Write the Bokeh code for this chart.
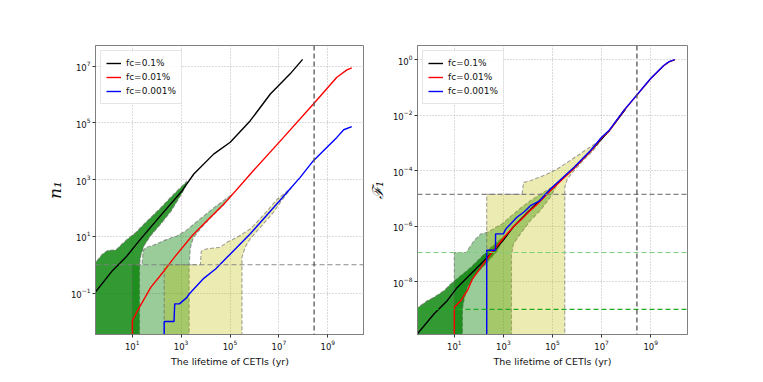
import numpy as np
from bokeh.plotting import figure
from bokeh.models import FixedTicker, Span, Range1d
from bokeh.layouts import row
from bokeh.embed import file_html
from bokeh.resources import INLINE

# ---------------- tick values / texts ----------------
x_ticks = [1e1, 1e3, 1e5, 1e7, 1e9]
left_y_ticks = [1e-1, 1e1, 1e3, 1e5, 1e7]
right_y_ticks = [1e-8, 1e-6, 1e-4, 1e-2, 1e0]
series_labels = ["fc=0.1%", "fc=0.01%", "fc=0.001%"]
x_label = "The lifetime of CETIs (yr)"
left_y_label = "n\u2081"
right_y_label = "\u2131\u2081"

# ---------------- LEFT panel: n_1 (values as log10) ----------------
black_n_logt = [-0.52, 0.2, 0.74, 1.29, 2.1, 3.05, 3.52, 4.33, 5.01, 5.83, 6.65, 7.46, 7.97]
black_n_logy = [-0.98, -0.2, 0.26, 0.85, 1.67, 2.62, 3.2, 3.9, 4.32, 5.08, 6.02, 6.73, 7.24]

red_n_logt = [1.01, 1.01, 1.22, 1.76, 2.31, 2.78, 3.46, 4.14, 4.69, 4.88, 5.96, 7.19, 8.41, 9.37, 9.78, 9.98]
red_n_logy = [-3.0, -1.97, -1.62, -0.8, -0.21, 0.32, 1.03, 1.62, 2.09, 2.26, 3.32, 4.49, 5.67, 6.61, 6.87, 6.94]

blue_n_logt = [2.31, 2.31, 2.71, 2.74, 2.93, 3.04, 3.24, 3.33, 3.9, 4.41, 4.88, 5.83, 6.92, 7.87, 8.41, 9.37, 9.65, 9.98]
blue_n_logy = [-3.0, -2.0, -2.0, -1.38, -1.38, -1.3, -1.15, -1.03, -0.5, -0.15, 0.26, 1.09, 2.15, 3.08, 3.67, 4.49, 4.76, 4.87]

# shaded spreads (polygon outlines, log10)
dark_n_logt = [-0.6, -0.6, -0.49, -0.21, 0.0, 0.33, 0.6, 0.81, 1.15, 1.56, 2.1, 2.6, 2.95, 3.25,
               3.15, 2.95, 2.6, 2.17, 1.76, 1.49, 1.35, 1.3, 1.3]
dark_n_logy = [-3.0, 0.0, 0.09, 0.38, 0.5, 0.52, 0.74, 0.91, 1.14, 1.5, 1.95, 2.4, 2.7, 2.95,
               2.7, 2.4, 1.9, 1.44, 1.03, 0.68, 0.32, 0.0, -3.0]

light_n_logt = [1.0, 1.0, 1.4, 1.45, 1.55, 1.9, 2.3, 2.6, 2.8, 3.2, 3.5, 3.9, 4.4, 4.8, 5.1,
                4.75, 4.2, 3.8, 3.5, 3.38, 3.33, 3.33]
light_n_logy = [-3.0, 0.0, 0.0, 0.5, 0.6, 0.7, 0.85, 0.95, 1.0, 1.2, 1.42, 1.7, 2.05, 2.3, 2.5,
                2.12, 1.65, 1.28, 0.95, 0.6, 0.0, -3.0]

yellow_n_logt = [2.31, 2.31, 3.79, 3.82, 3.86, 4.06, 4.6, 4.88, 5.29, 5.83, 6.37, 6.92, 7.5,
                 7.1, 6.78, 6.24, 5.83, 5.62, 5.49, 5.49]
yellow_n_logy = [-3.0, 0.0, 0.0, 0.45, 0.5, 0.56, 0.62, 0.79, 0.97, 1.26, 1.75, 2.3, 2.7,
                 2.25, 1.85, 1.32, 0.92, 0.62, 0.26, -3.0]

left_threshold = 1.0
lifetime_mark = 2.75e8

# ---------------- RIGHT panel: F_1 (log10) ----------------
black_f_logt = [-0.52, 0.17, 0.71, 1.12, 1.67, 2.21, 2.62, 3.0, 3.41, 4.1, 4.91, 5.87, 6.55, 7.3, 7.97]
black_f_logy = [-9.9, -9.17, -8.69, -8.21, -7.73, -7.25, -6.88, -6.5, -6.02, -5.4, -4.7, -3.9, -3.29, -2.57, -1.78]

red_f_logt = [1.0, 1.0, 1.26, 1.53, 1.74, 2.08, 2.49, 3.03, 3.41, 3.72, 4.1, 4.39, 4.91, 5.87, 6.55,
              7.0, 7.3, 7.9, 8.99, 9.53, 9.75, 9.98]
red_f_logy = [-10.5, -8.93, -8.69, -8.33, -7.91, -7.49, -7.0, -6.4, -6.02, -5.77, -5.43, -5.2, -4.72, -3.92,
              -3.3, -2.81, -2.57, -1.84, -0.69, -0.21, -0.07, 0.0]

blue_f_logt = [2.32, 2.32, 2.68, 2.68, 2.87, 3.0, 3.1, 3.55, 3.85, 4.1, 4.46, 4.91, 5.87, 6.55, 7.0,
               7.3, 7.9, 8.99, 9.53, 9.75, 9.98]
blue_f_logy = [-10.5, -6.87, -6.87, -6.28, -6.28, -6.28, -6.1, -5.68, -5.48, -5.26, -5.1, -4.66, -3.88,
               -3.27, -2.79, -2.55, -1.83, -0.68, -0.2, -0.06, 0.01]

dark_f_logt = [-0.6, -0.6, -0.51, -0.1, 0.17, 0.58, 0.85, 1.26, 1.67, 2.08, 2.49, 2.9, 3.05,
               2.76, 2.28, 1.81, 1.53, 1.4, 1.33, 1.33]
dark_f_logy = [-10.5, -8.99, -8.95, -8.69, -8.57, -8.33, -8.09, -7.79, -7.49, -7.13, -6.77, -6.46, -6.35,
               -6.88, -7.36, -7.79, -8.21, -8.63, -8.99, -10.5]

light_f_logt = [1.0, 1.0, 1.5, 1.53, 1.81, 2.08, 2.35, 2.94, 3.41, 3.82, 4.1, 4.5, 5.2,
                4.91, 4.5, 4.1, 3.69, 3.41, 3.35, 3.33, 3.33]
light_f_logy = [-10.5, -6.95, -6.95, -6.88, -6.52, -6.28, -6.22, -5.92, -5.56, -5.26, -5.08, -4.85, -4.48,
                -4.96, -5.44, -5.8, -6.28, -6.64, -6.95, -6.95, -10.5]

yellow_f_logt = [2.32, 2.32, 3.76, 3.82, 4.1, 4.44, 4.78, 5.19, 5.6, 6.01, 6.42, 6.83, 7.1,
                 6.68, 6.28, 5.87, 5.6, 5.5, 5.5]
yellow_f_logy = [-10.5, -4.85, -4.85, -4.42, -4.36, -4.24, -4.12, -3.94, -3.7, -3.46, -3.21, -2.97, -2.75,
                 -3.25, -3.6, -4.0, -4.3, -4.6, -10.5]

right_thresholds = [1.4e-5, 1.12e-7, 1.0e-9]
right_threshold_colors = ["#808080", "#80cc80", "#22aa22"]


def pw(a):
    return [10.0 ** v for v in a]


FONT = "DejaVu Sans"


def make_fig(width, bl, br, ylo, yhi, yticks, ylab, ylab_size):
    p = figure(width=width, height=370, x_axis_type="log", y_axis_type="log",
               x_range=Range1d(10 ** -0.5, 10 ** 10.5), y_range=Range1d(ylo, yhi),
               output_backend="svg", toolbar_location=None,
               min_border_left=bl, min_border_right=br, min_border_top=45, min_border_bottom=36)
    xt = FixedTicker(ticks=x_ticks, minor_ticks=[])
    yt = FixedTicker(ticks=yticks, minor_ticks=[])
    p.xaxis.ticker = xt
    p.yaxis.ticker = yt
    p.xgrid.ticker = xt
    p.ygrid.ticker = yt
    for g in (p.xgrid, p.ygrid):
        g.grid_line_color = "#b0b0b0"
        g.grid_line_dash = "1 2"
        g.grid_line_alpha = 0.9
    for ax in (p.xaxis, p.yaxis):
        ax.axis_line_color = "#808080"
        ax.major_tick_line_color = "#333333"
        ax.major_tick_out = 3
        ax.major_tick_in = 0
        ax.minor_tick_out = 0
        ax.minor_tick_in = 0
        ax.major_label_text_font = FONT
        ax.major_label_text_font_size = "8.5px"
        ax.major_label_text_color = "#111111"
        ax.major_label_standoff = 2
    p.xaxis.axis_label = x_label
    p.xaxis.axis_label_text_font = FONT
    p.xaxis.axis_label_text_font_style = "normal"
    p.xaxis.axis_label_text_font_size = "9.5px"
    p.xaxis.axis_label_text_color = "#111111"
    p.xaxis.axis_label_standoff = 3
    p.yaxis.axis_label = ylab
    p.yaxis.axis_label_text_font = "DejaVu Serif"
    p.yaxis.axis_label_text_font_style = "italic"
    p.yaxis.axis_label_text_font_size = ylab_size
    p.yaxis.axis_label_text_color = "#111111"
    p.yaxis.axis_label_standoff = 3
    p.outline_line_color = "#808080"
    p.outline_line_width = 1
    return p


def add_bands(p, polys):
    colors = [("green", 0.8), ("green", 0.4), ("#bfbf00", 0.3)]
    for (xs, ys), (c, a) in zip(polys, colors):
        p.patch(pw(xs), pw(ys), fill_color=c, fill_alpha=a, line_color="#666666",
                line_alpha=0.6, line_width=1.1, line_dash="4 2")


def add_lines(p, series):
    for (xs, ys), c, lab in zip(series, ["black", "red", "blue"], series_labels):
        p.line(pw(xs), pw(ys), line_color=c, line_width=1.4, legend_label=lab)


def style_legend(p):
    lg = p.legend[0]
    lg.location = "top_left"
    lg.margin = 5
    lg.padding = 5
    lg.spacing = 0
    lg.label_height = 14
    lg.glyph_height = 14
    lg.glyph_width = 15
    lg.label_standoff = 5
    lg.label_text_font = FONT
    lg.label_text_font_size = "9px"
    lg.label_text_color = "#111111"
    lg.border_line_color = "#cccccc"
    lg.border_line_width = 1
    lg.background_fill_alpha = 0.85


# ---- left figure ----
p1 = make_fig(364, 95, 0, 10 ** -2.46, 10 ** 7.73, left_y_ticks, left_y_label, "17px")
add_bands(p1, [(dark_n_logt, dark_n_logy), (light_n_logt, light_n_logy), (yellow_n_logt, yellow_n_logy)])
p1.add_layout(Span(location=left_threshold, dimension="width", line_color="#808080",
                   line_dash="5 3", line_width=1.2, line_alpha=0.9))
p1.add_layout(Span(location=lifetime_mark, dimension="height", line_color="#555555",
                   line_dash="5 3", line_width=1.3))
add_lines(p1, [(black_n_logt, black_n_logy), (red_n_logt, red_n_logy), (blue_n_logt, blue_n_logy)])
style_legend(p1)

# ---- right figure ----
p2 = make_fig(343, 53, 20, 10 ** -9.91, 10 ** 0.52, right_y_ticks, right_y_label, "15px")
add_bands(p2, [(dark_f_logt, dark_f_logy), (light_f_logt, light_f_logy), (yellow_f_logt, yellow_f_logy)])
for loc, col in zip(right_thresholds, right_threshold_colors):
    p2.add_layout(Span(location=loc, dimension="width", line_color=col,
                       line_dash="5 3", line_width=1.2, line_alpha=1.0))
p2.add_layout(Span(location=lifetime_mark, dimension="height", line_color="#555555",
                   line_dash="5 3", line_width=1.3))
add_lines(p2, [(black_f_logt, black_f_logy), (red_f_logt, red_f_logy), (blue_f_logt, blue_f_logy)])
style_legend(p2)

layout = row(p1, p2)
open("out.html", "w").write(file_html(layout, INLINE))
